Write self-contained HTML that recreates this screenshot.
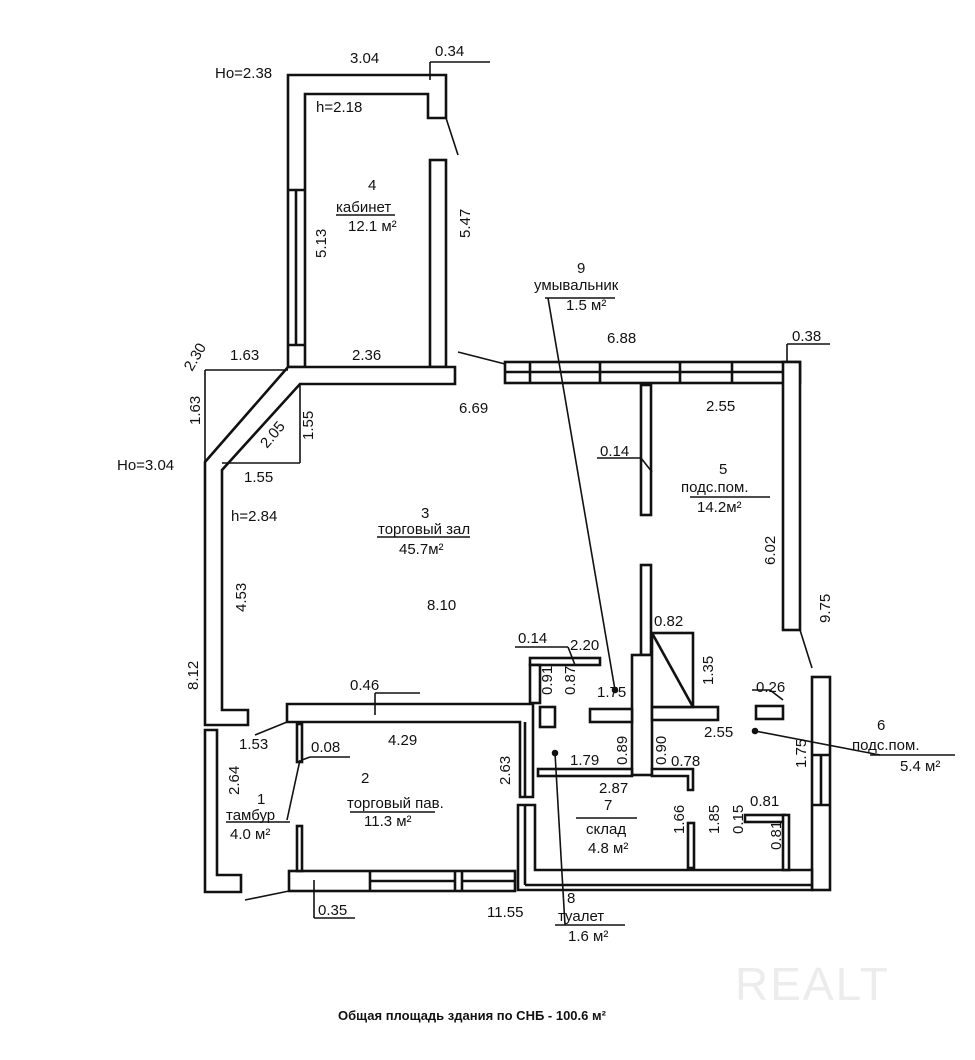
<!DOCTYPE html>
<html><head><meta charset="utf-8"><style>
body{margin:0;background:#fff}
svg text{font-family:"Liberation Sans",sans-serif;font-size:15px;fill:#111}
</style></head><body>
<svg width="975" height="1055" viewBox="0 0 975 1055" xmlns="http://www.w3.org/2000/svg">
<rect width="975" height="1055" fill="#fff"/>
<g fill="#fff" stroke="#111" stroke-width="2.6">
<polygon points="288,75 446,75 446,118 428,118 428,94 305,94 305,367 288,367"/>
<line x1="296" y1="190" x2="296" y2="345"/>
<line x1="288" y1="345" x2="305" y2="345"/><line x1="288" y1="190" x2="305" y2="190"/>
<rect x="430" y="160" width="16" height="207"/>
<polygon points="288,367 455,367 455,384 300,384 222,470 222,710 248,710 248,725 205,725 205,462"/>
<rect x="505" y="362" width="295" height="21"/>
<line x1="530" y1="362" x2="530" y2="383"/><line x1="600" y1="362" x2="600" y2="383"/>
<line x1="680" y1="362" x2="680" y2="383"/><line x1="732" y1="362" x2="732" y2="383"/>
<line x1="505" y1="372" x2="783" y2="372"/>
<rect x="783" y="362" width="17" height="268"/>
<rect x="812" y="677" width="18" height="213"/>
<line x1="812" y1="755" x2="830" y2="755"/><line x1="812" y1="805" x2="830" y2="805"/>
<line x1="821" y1="755" x2="821" y2="805"/>
<polygon points="518,805 535,805 535,870 812,870 812,890 518,890"/>
<line x1="525" y1="805" x2="525" y2="885"/><line x1="525" y1="885" x2="812" y2="885"/>
<polygon points="287,704 533,704 533,797 520,797 520,722 287,722"/>
<line x1="525" y1="722" x2="525" y2="797"/>
<rect x="289" y="871" width="226" height="20"/>
<line x1="370" y1="871" x2="370" y2="891"/><line x1="455" y1="871" x2="455" y2="891"/><line x1="462" y1="871" x2="462" y2="891"/>
<line x1="370" y1="881" x2="455" y2="881"/><line x1="462" y1="881" x2="515" y2="881"/>
<rect x="297" y="724" width="5" height="38"/>
<rect x="297" y="826" width="5" height="45"/>
<polygon points="205,730 217,730 217,875 241,875 241,892 205,892"/>
<rect x="641" y="385" width="10" height="130"/>
<rect x="641" y="565" width="10" height="90"/>
<rect x="632" y="655" width="20" height="120"/>
<rect x="590" y="709" width="42" height="13"/>
<rect x="652" y="707" width="66" height="13"/>
<rect x="652" y="633" width="41" height="74"/>
<line x1="652" y1="633" x2="693" y2="707"/>
<rect x="756" y="706" width="27" height="13"/>
<rect x="530" y="658" width="70" height="7"/>
<rect x="530" y="665" width="10" height="38"/>
<rect x="540" y="707" width="15" height="20"/>
<rect x="538" y="769" width="94" height="7"/>
<polygon points="652,769 693,769 693,790 688,790 688,776 652,776"/>
<rect x="688" y="823" width="6" height="45"/>
<rect x="745" y="815" width="40" height="7"/>
<rect x="783" y="815" width="6" height="55"/>
</g>
<g stroke="#111" stroke-width="1.6" fill="none">
<line x1="430" y1="80" x2="430" y2="62"/><line x1="430" y1="62" x2="490" y2="62"/>
<line x1="446" y1="118" x2="458" y2="155"/>
<line x1="458" y1="352" x2="505" y2="364"/>
<line x1="205" y1="370" x2="288" y2="370"/><line x1="205" y1="370" x2="205" y2="462"/>
<line x1="222" y1="463" x2="300" y2="463"/><line x1="300" y1="384" x2="300" y2="463"/>
<line x1="787" y1="362" x2="787" y2="344"/><line x1="787" y1="344" x2="830" y2="344"/>
<line x1="652" y1="472" x2="641" y2="458"/><line x1="641" y1="458" x2="597" y2="458"/>
<line x1="800" y1="630" x2="812" y2="668"/>
<line x1="783" y1="700" x2="770" y2="690"/><line x1="770" y1="690" x2="752" y2="690"/>
<line x1="575" y1="665" x2="568" y2="647"/><line x1="568" y1="647" x2="515" y2="647"/>
<line x1="375" y1="715" x2="375" y2="693"/><line x1="375" y1="693" x2="420" y2="693"/>
<line x1="287" y1="722" x2="255" y2="735"/>
<line x1="302" y1="760" x2="310" y2="757"/><line x1="310" y1="757" x2="350" y2="757"/>
<line x1="300" y1="760" x2="287" y2="820"/>
<line x1="289" y1="891" x2="245" y2="900"/>
<line x1="314" y1="880" x2="314" y2="918"/><line x1="314" y1="918" x2="355" y2="918"/>
<line x1="545" y1="298" x2="615" y2="298"/>
<line x1="548" y1="298" x2="615" y2="690"/>
<circle cx="615" cy="690" r="2.5" fill="#111"/>
<line x1="555" y1="753" x2="565" y2="925"/>
<circle cx="555" cy="753" r="2.5" fill="#111"/>
<line x1="555" y1="925" x2="625" y2="925"/>
<line x1="755" y1="731" x2="880" y2="755"/>
<circle cx="755" cy="731" r="2.5" fill="#111"/>
<line x1="870" y1="755" x2="955" y2="755"/>
<line x1="336" y1="215" x2="395" y2="215"/>
<line x1="377" y1="537" x2="470" y2="537"/>
<line x1="690" y1="497" x2="770" y2="497"/>
<line x1="576" y1="818" x2="637" y2="818"/>
<line x1="226" y1="822" x2="290" y2="822"/>
<line x1="350" y1="812" x2="435" y2="812"/>
</g>
<g>
<text x="350" y="63">3.04</text><text x="435" y="56">0.34</text>
<text x="215" y="78">Ho=2.38</text><text x="316" y="112">h=2.18</text>
<text x="368" y="190">4</text><text x="336" y="212">кабинет</text><text x="348" y="231">12.1 м²</text>
<text transform="translate(326,258) rotate(-90)">5.13</text>
<text transform="translate(470,238) rotate(-90)">5.47</text>
<text x="230" y="360">1.63</text><text x="352" y="360">2.36</text>
<text transform="translate(192,372) rotate(-60)">2.30</text>
<text transform="translate(200,425) rotate(-90)">1.63</text>
<text transform="translate(267,449) rotate(-50)">2.05</text>
<text transform="translate(313,440) rotate(-90)">1.55</text>
<text x="244" y="482">1.55</text>
<text x="117" y="470">Ho=3.04</text><text x="231" y="521">h=2.84</text>
<text x="459" y="413">6.69</text>
<text x="607" y="343">6.88</text><text x="792" y="341">0.38</text>
<text x="577" y="273">9</text><text x="534" y="290">умывальник</text><text x="566" y="310">1.5 м²</text>
<text x="706" y="411">2.55</text><text x="600" y="456">0.14</text>
<text x="719" y="474">5</text><text x="681" y="492">подс.пом.</text><text x="697" y="512">14.2м²</text>
<text transform="translate(775,565) rotate(-90)">6.02</text>
<text transform="translate(830,623) rotate(-90)">9.75</text>
<text x="421" y="518">3</text><text x="378" y="534">торговый зал</text><text x="399" y="554">45.7м²</text>
<text x="427" y="610">8.10</text>
<text transform="translate(246,612) rotate(-90)">4.53</text>
<text transform="translate(198,690) rotate(-90)">8.12</text>
<text x="518" y="643">0.14</text><text x="570" y="650">2.20</text>
<text transform="translate(552,695) rotate(-90)">0.91</text>
<text transform="translate(575,695) rotate(-90)">0.87</text>
<text x="654" y="626">0.82</text>
<text transform="translate(713,685) rotate(-90)">1.35</text>
<text x="597" y="697">1.75</text><text x="756" y="692">0.26</text>
<text x="704" y="737">2.55</text>
<text transform="translate(627,765) rotate(-90)">0.89</text>
<text transform="translate(666,765) rotate(-90)">0.90</text>
<text x="671" y="766">0.78</text><text x="570" y="765">1.79</text>
<text transform="translate(806,768) rotate(-90)">1.75</text>
<text x="877" y="730">6</text><text x="852" y="750">подс.пом.</text><text x="900" y="771">5.4 м²</text>
<text x="350" y="690">0.46</text><text x="388" y="745">4.29</text><text x="239" y="749">1.53</text>
<text x="311" y="752">0.08</text>
<text transform="translate(510,785) rotate(-90)">2.63</text>
<text transform="translate(239,795) rotate(-90)">2.64</text>
<text x="599" y="793">2.87</text><text x="604" y="810">7</text>
<text x="586" y="834">склад</text><text x="588" y="853">4.8 м²</text>
<text transform="translate(684,834) rotate(-90)">1.66</text>
<text transform="translate(719,834) rotate(-90)">1.85</text>
<text transform="translate(743,834) rotate(-90)">0.15</text>
<text x="750" y="806">0.81</text>
<text transform="translate(781,850) rotate(-90)">0.81</text>
<text x="361" y="783">2</text><text x="347" y="808">торговый пав.</text><text x="364" y="826">11.3 м²</text>
<text x="257" y="804">1</text><text x="226" y="820">тамбур</text><text x="230" y="839">4.0 м²</text>
<text x="318" y="915">0.35</text><text x="487" y="917">11.55</text>
<text x="567" y="903">8</text><text x="558" y="921">туалет</text><text x="568" y="941">1.6 м²</text>
<text x="338" y="1020" style="font-size:13px;font-weight:bold">Общая площадь здания по СНБ - 100.6  м²</text>
<text x="735" y="1000" style="font-size:46px;fill:#ececec;letter-spacing:2px">REALT</text>
</g>
</svg>
</body></html>
